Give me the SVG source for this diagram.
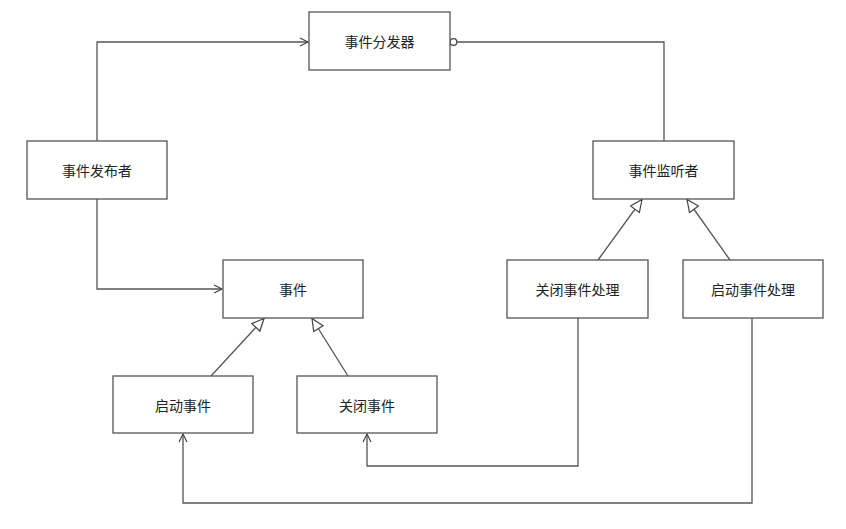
<svg xmlns="http://www.w3.org/2000/svg" width="846" height="529" viewBox="0 0 846 529">
<style>
.box{fill:#fff;stroke:#555;stroke-width:1.3}
.lbl{font-family:"Noto Sans CJK SC","Noto Sans",sans-serif;font-size:14px;fill:#222;text-anchor:middle;dominant-baseline:central}
.ln{fill:none;stroke:#555;stroke-width:1.3}
</style>
<defs>
<marker id="open" markerUnits="userSpaceOnUse" markerWidth="12" markerHeight="12" refX="9" refY="5" orient="auto">
<path d="M1,1 L9,5 L1,9" fill="none" stroke="#444" stroke-width="1.2"/>
</marker>
<marker id="tri" markerUnits="userSpaceOnUse" markerWidth="16" markerHeight="16" refX="13" refY="6.5" orient="auto">
<path d="M1,1 L13,6.5 L1,12 Z" fill="#fff" stroke="#444" stroke-width="1.2"/>
</marker>
</defs>
<rect width="846" height="529" fill="#fff"/>
<g id="connectors">
<polyline class="ln" points="97,141 97,42 308,42" marker-end="url(#open)"/>
<polyline class="ln" points="664,141 664,42 457,42"/>
<circle cx="453.5" cy="42" r="3.3" fill="#fff" stroke="#444" stroke-width="1.2"/>
<polyline class="ln" points="97,199 97,289 222,289" marker-end="url(#open)"/>
<line class="ln" x1="211" y1="376" x2="264" y2="318.5" marker-end="url(#tri)"/>
<line class="ln" x1="348" y1="376" x2="312" y2="318.5" marker-end="url(#tri)"/>
<line class="ln" x1="598" y1="260" x2="642" y2="199.5" marker-end="url(#tri)"/>
<line class="ln" x1="730" y1="260" x2="687" y2="199.5" marker-end="url(#tri)"/>
<polyline class="ln" points="578,318 578,466 367,466 367,434" marker-end="url(#open)"/>
<polyline class="ln" points="752,318 752,503 183,503 183,434" marker-end="url(#open)"/>
</g>
<g id="dispatcher"><rect class="box" x="309" y="12" width="141" height="58"/><text class="lbl" x="379.5" y="41">事件分发器</text></g>
<g id="publisher"><rect class="box" x="27" y="141" width="140" height="58"/><text class="lbl" x="97" y="170">事件发布者</text></g>
<g id="listener"><rect class="box" x="593" y="141" width="141" height="58"/><text class="lbl" x="663.5" y="170">事件监听者</text></g>
<g id="event"><rect class="box" x="223" y="260" width="140" height="58"/><text class="lbl" x="293" y="289">事件</text></g>
<g id="closeHandler"><rect class="box" x="507" y="260" width="141" height="58"/><text class="lbl" x="577.5" y="289">关闭事件处理</text></g>
<g id="startHandler"><rect class="box" x="683" y="260" width="140" height="58"/><text class="lbl" x="753" y="289">启动事件处理</text></g>
<g id="startEvent"><rect class="box" x="113" y="376" width="140" height="57"/><text class="lbl" x="183" y="405">启动事件</text></g>
<g id="closeEvent"><rect class="box" x="297" y="376" width="140" height="57"/><text class="lbl" x="367" y="405">关闭事件</text></g>
</svg>
